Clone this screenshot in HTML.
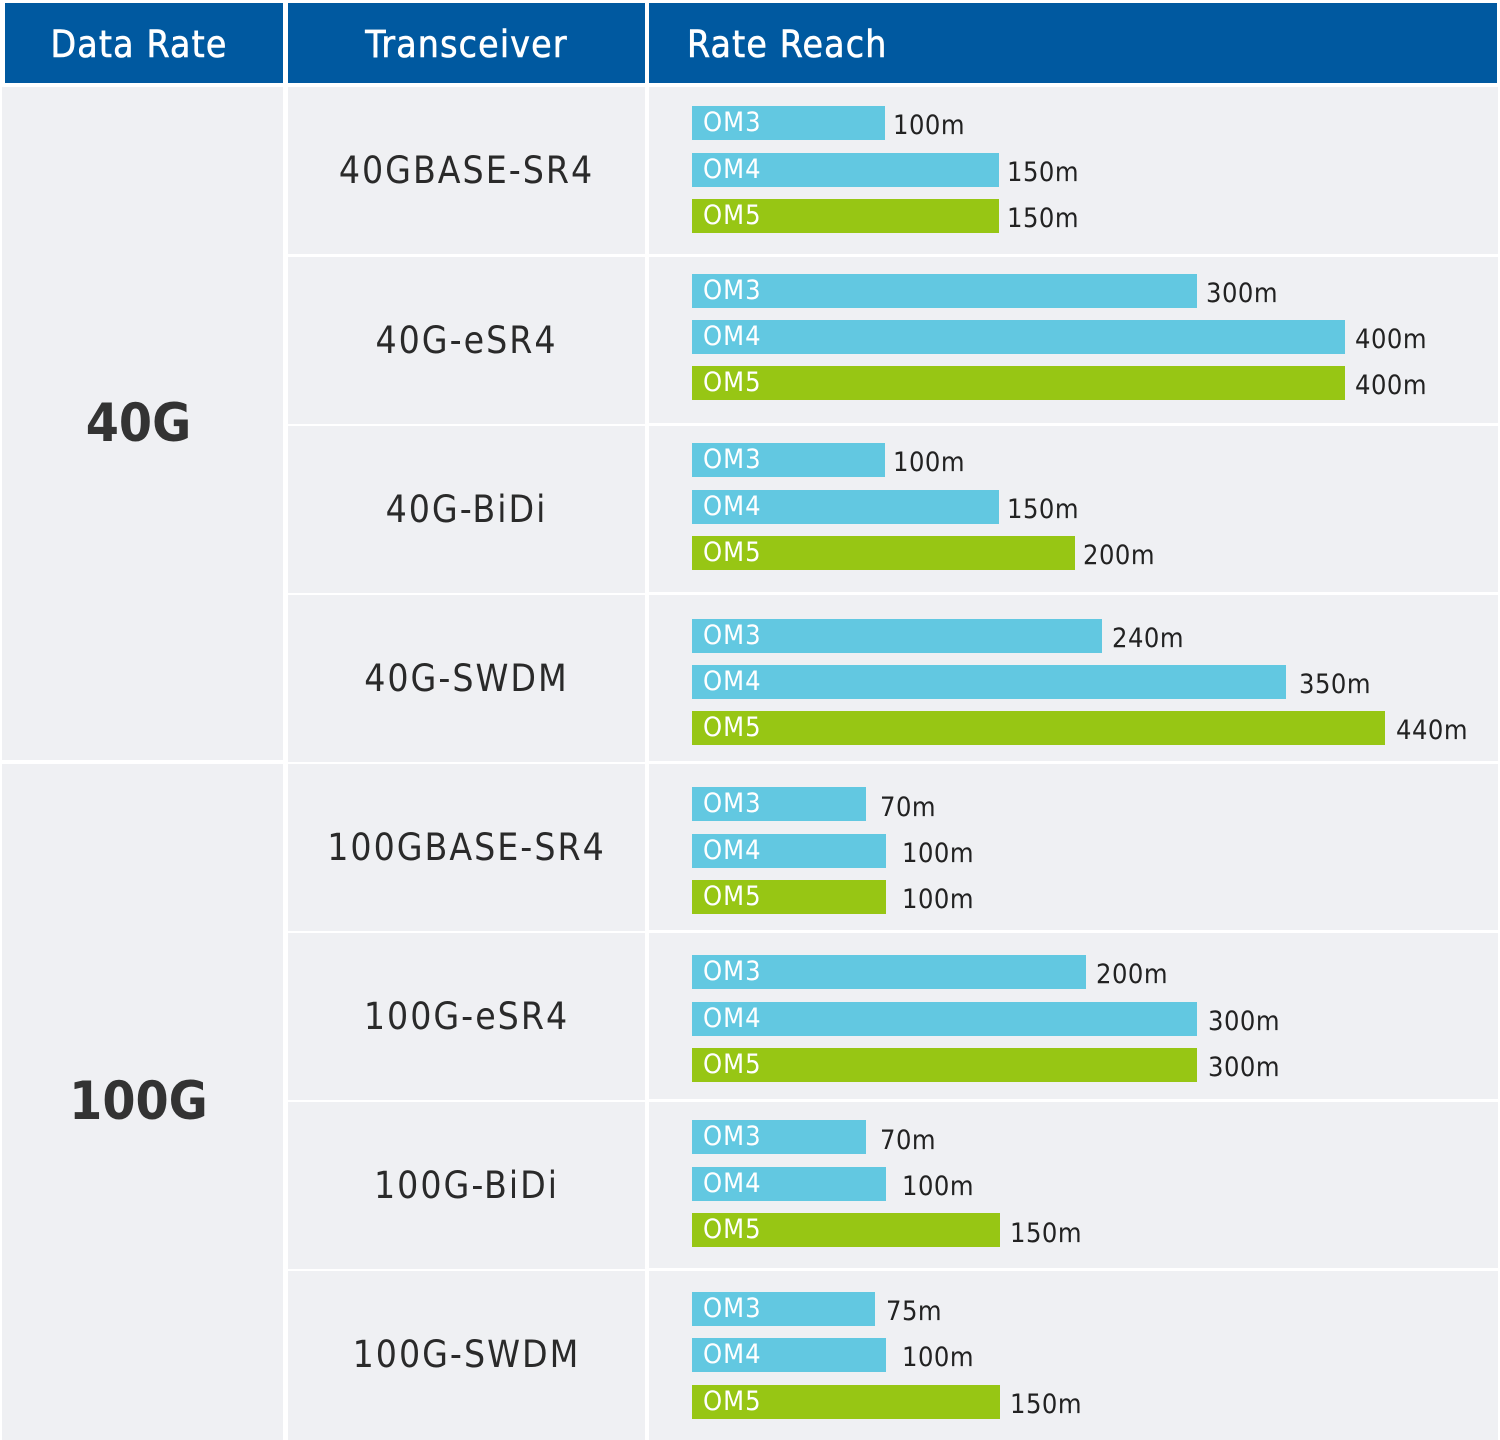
<!DOCTYPE html><html><head><style>
body{margin:0;width:1500px;height:1440px;background:#fff;position:relative;font-family:"DejaVu Sans Condensed","Liberation Sans",sans-serif;overflow:hidden}
div{position:absolute;box-sizing:border-box}
.h{background:#0059a0;color:#fff;top:3px;height:80px;font-size:37px;line-height:84px;letter-spacing:1.2px;-webkit-text-stroke:0.6px #fff}
.c{background:#eff0f3}
.t{left:288px;width:357px;text-align:center;font-size:37px;letter-spacing:2px;color:#2a2a2a;line-height:167px;height:167px}
.b{left:692px;height:34px;color:#fff;font-size:27px;letter-spacing:1px;line-height:34px;padding-left:11px}
.b.c3{background:#62c8e1}.b.c5{background:#97c614}
.v{font-size:27px;color:#222;line-height:40px;letter-spacing:0.5px}
</style></head><body>
<div class="h" style="left:5px;width:278px;text-align:center;padding-right:10px">Data Rate</div>
<div class="h" style="left:288px;width:357px;text-align:center">Transceiver</div>
<div class="h" style="left:649px;width:848px;padding-left:38px">Rate Reach</div>
<div class="c" style="left:2px;top:87px;width:281px;height:673px;font-size:53px;font-weight:bold;color:#333;text-align:center;line-height:673px;padding-right:8px">40G</div>
<div class="c" style="left:2px;top:764px;width:281px;height:676px;font-size:53px;font-weight:bold;color:#333;text-align:center;line-height:676px;padding-right:8px">100G</div>

<div class="c t" style="top:87px">40GBASE-SR4</div>
<div class="c t" style="top:257px">40G-eSR4</div>
<div class="c t" style="top:426px">40G-BiDi</div>
<div class="c t" style="top:595px">40G-SWDM</div>
<div class="c t" style="top:764px">100GBASE-SR4</div>
<div class="c t" style="top:933px">100G-eSR4</div>
<div class="c t" style="top:1102px">100G-BiDi</div>
<div class="c t" style="top:1271px;height:169px">100G-SWDM</div>

<div class="c" style="left:649px;top:87px;width:849px;height:167px"></div>
<div class="c" style="left:649px;top:257px;width:849px;height:166px"></div>
<div class="c" style="left:649px;top:426px;width:849px;height:166px"></div>
<div class="c" style="left:649px;top:595px;width:849px;height:166px"></div>
<div class="c" style="left:649px;top:764px;width:849px;height:166px"></div>
<div class="c" style="left:649px;top:933px;width:849px;height:166px"></div>
<div class="c" style="left:649px;top:1102px;width:849px;height:166px"></div>
<div class="c" style="left:649px;top:1271px;width:849px;height:169px"></div>

<div class="b c3" style="top:106px;width:193px">OM3</div><div class="v" style="top:106px;left:893px">100m</div>
<div class="b c3" style="top:153px;width:307px">OM4</div><div class="v" style="top:153px;left:1007px">150m</div>
<div class="b c5" style="top:199px;width:307px">OM5</div><div class="v" style="top:199px;left:1007px">150m</div>
<div class="b c3" style="top:274px;width:505px">OM3</div><div class="v" style="top:274px;left:1206px">300m</div>
<div class="b c3" style="top:320px;width:653px">OM4</div><div class="v" style="top:320px;left:1355px">400m</div>
<div class="b c5" style="top:366px;width:653px">OM5</div><div class="v" style="top:366px;left:1355px">400m</div>
<div class="b c3" style="top:443px;width:193px">OM3</div><div class="v" style="top:443px;left:893px">100m</div>
<div class="b c3" style="top:490px;width:307px">OM4</div><div class="v" style="top:490px;left:1007px">150m</div>
<div class="b c5" style="top:536px;width:383px">OM5</div><div class="v" style="top:536px;left:1083px">200m</div>
<div class="b c3" style="top:619px;width:410px">OM3</div><div class="v" style="top:619px;left:1112px">240m</div>
<div class="b c3" style="top:665px;width:594px">OM4</div><div class="v" style="top:665px;left:1299px">350m</div>
<div class="b c5" style="top:711px;width:693px">OM5</div><div class="v" style="top:711px;left:1396px">440m</div>
<div class="b c3" style="top:787px;width:174px">OM3</div><div class="v" style="top:788px;left:880px">70m</div>
<div class="b c3" style="top:834px;width:194px">OM4</div><div class="v" style="top:834px;left:902px">100m</div>
<div class="b c5" style="top:880px;width:194px">OM5</div><div class="v" style="top:880px;left:902px">100m</div>
<div class="b c3" style="top:955px;width:394px">OM3</div><div class="v" style="top:955px;left:1096px">200m</div>
<div class="b c3" style="top:1002px;width:505px">OM4</div><div class="v" style="top:1002px;left:1208px">300m</div>
<div class="b c5" style="top:1048px;width:505px">OM5</div><div class="v" style="top:1048px;left:1208px">300m</div>
<div class="b c3" style="top:1120px;width:174px">OM3</div><div class="v" style="top:1121px;left:880px">70m</div>
<div class="b c3" style="top:1167px;width:194px">OM4</div><div class="v" style="top:1167px;left:902px">100m</div>
<div class="b c5" style="top:1213px;width:308px">OM5</div><div class="v" style="top:1214px;left:1010px">150m</div>
<div class="b c3" style="top:1292px;width:183px">OM3</div><div class="v" style="top:1292px;left:886px">75m</div>
<div class="b c3" style="top:1338px;width:194px">OM4</div><div class="v" style="top:1338px;left:902px">100m</div>
<div class="b c5" style="top:1385px;width:308px">OM5</div><div class="v" style="top:1385px;left:1010px">150m</div>
</body></html>
